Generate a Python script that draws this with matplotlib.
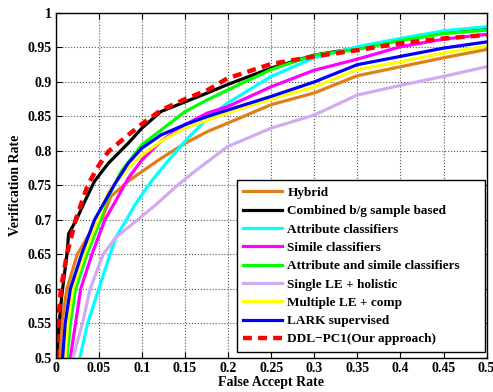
import matplotlib
matplotlib.use('Agg')
import matplotlib.pyplot as plt
import numpy as np

# ROC data (false accept rate, verification rate)
hybrid_far = [0.005, 0.007, 0.013, 0.025, 0.044, 0.053, 0.064, 0.084, 0.1, 0.122, 0.15, 0.176, 0.199, 0.25, 0.3, 0.35, 0.4, 0.45, 0.5]
hybrid_vr = [0.5, 0.55, 0.6, 0.65, 0.69, 0.7, 0.734, 0.756, 0.77, 0.789, 0.811, 0.828, 0.84, 0.867, 0.884, 0.909, 0.922, 0.935, 0.947]

combined_far = [0.001, 0.004, 0.007, 0.008, 0.013, 0.015, 0.024, 0.033, 0.045, 0.061, 0.084, 0.1, 0.122, 0.15, 0.176, 0.199, 0.25, 0.3, 0.35, 0.4, 0.45, 0.5]
combined_vr = [0.5, 0.55, 0.59, 0.6, 0.65, 0.68, 0.7, 0.725, 0.756, 0.782, 0.811, 0.833, 0.857, 0.871, 0.884, 0.896, 0.92, 0.939, 0.949, 0.961, 0.972, 0.977]

attr_far = [0.028, 0.037, 0.05, 0.063, 0.07, 0.082, 0.092, 0.111, 0.13, 0.15, 0.176, 0.199, 0.25, 0.3, 0.35, 0.4, 0.45, 0.5]
attr_vr = [0.5, 0.55, 0.6, 0.65, 0.675, 0.7, 0.722, 0.756, 0.785, 0.814, 0.847, 0.869, 0.908, 0.935, 0.951, 0.963, 0.974, 0.98]

simile_far = [0.017, 0.023, 0.029, 0.042, 0.057, 0.068, 0.084, 0.1, 0.122, 0.15, 0.176, 0.199, 0.25, 0.3, 0.35, 0.4, 0.45, 0.5]
simile_vr = [0.5, 0.55, 0.6, 0.65, 0.7, 0.724, 0.76, 0.787, 0.814, 0.838, 0.855, 0.864, 0.893, 0.917, 0.933, 0.951, 0.962, 0.969]

attr_simile_far = [0.013, 0.017, 0.023, 0.036, 0.052, 0.057, 0.076, 0.1, 0.122, 0.15, 0.176, 0.199, 0.25, 0.3, 0.35, 0.4, 0.45, 0.5]
attr_simile_vr = [0.5, 0.55, 0.6, 0.65, 0.7, 0.724, 0.77, 0.809, 0.83, 0.857, 0.874, 0.888, 0.918, 0.939, 0.947, 0.96, 0.97, 0.975]

single_le_far = [0.02, 0.031, 0.04, 0.055, 0.07, 0.095, 0.118, 0.142, 0.161, 0.199, 0.25, 0.3, 0.35, 0.4, 0.45, 0.5]
single_le_vr = [0.5, 0.55, 0.6, 0.65, 0.675, 0.7, 0.724, 0.751, 0.77, 0.806, 0.833, 0.852, 0.881, 0.895, 0.908, 0.922]

multi_le_far = [0.011, 0.014, 0.02, 0.033, 0.049, 0.061, 0.084, 0.1, 0.122, 0.15, 0.199, 0.25, 0.3, 0.35, 0.4, 0.45, 0.5]
multi_le_vr = [0.5, 0.55, 0.6, 0.65, 0.7, 0.741, 0.775, 0.794, 0.814, 0.833, 0.855, 0.875, 0.893, 0.918, 0.929, 0.942, 0.952]

lark_far = [0.008, 0.011, 0.017, 0.03, 0.045, 0.068, 0.084, 0.1, 0.122, 0.15, 0.176, 0.199, 0.25, 0.3, 0.35, 0.4, 0.45, 0.5]
lark_vr = [0.5, 0.55, 0.6, 0.65, 0.7, 0.751, 0.782, 0.804, 0.823, 0.838, 0.85, 0.859, 0.879, 0.9, 0.925, 0.937, 0.949, 0.958]

ddl_far = [0.001, 0.003, 0.006, 0.013, 0.023, 0.037, 0.049, 0.061, 0.084, 0.1, 0.122, 0.15, 0.176, 0.199, 0.25, 0.3, 0.35, 0.4, 0.45, 0.5]
ddl_vr = [0.5, 0.55, 0.6, 0.65, 0.7, 0.75, 0.777, 0.799, 0.823, 0.839, 0.859, 0.875, 0.888, 0.905, 0.926, 0.937, 0.946, 0.956, 0.963, 0.968]

labels = ['Hybrid', 'Combined b/g sample based', 'Attribute classifiers',
          'Simile classifiers', 'Attribute and simile classifiers',
          'Single LE + holistic', 'Multiple LE + comp', 'LARK supervised',
          'DDL\u2212PC1(Our approach)']

plt.rcParams['font.family'] = ['Liberation Serif', 'DejaVu Serif']
plt.rcParams['font.weight'] = 'bold'

fig = plt.figure(figsize=(4.93, 3.92), dpi=100)
ax = fig.add_axes([0.113, 0.087, 0.874, 0.88])

lw = 2.3
ax.plot(hybrid_far, hybrid_vr, color='#E07F16', lw=lw, label=labels[0])
ax.plot(combined_far, combined_vr, color='black', lw=lw, label=labels[1])
ax.plot(attr_far, attr_vr, color='#00FFFF', lw=lw, label=labels[2])
ax.plot(simile_far, simile_vr, color='#FF00FF', lw=lw, label=labels[3])
ax.plot(attr_simile_far, attr_simile_vr, color='#00FF00', lw=lw, label=labels[4])
ax.plot(single_le_far, single_le_vr, color='#D2AAF2', lw=lw, label=labels[5])
ax.plot(multi_le_far, multi_le_vr, color='#FFFF00', lw=lw, label=labels[6])
ax.plot(lark_far, lark_vr, color='#0000FF', lw=lw, label=labels[7])
ax.plot(ddl_far, ddl_vr, color='#FF0000', lw=3.2, ls=(0, (2.0, 1.4)), label=labels[8])

ax.set_xlim(0, 0.5)
ax.set_ylim(0.5, 1)
xt = np.arange(0, 0.51, 0.05)
yt = np.arange(0.5, 1.01, 0.05)
ax.set_xticks(xt)
ax.set_yticks(yt)
ax.set_xticklabels(['%g' % round(v, 2) for v in xt], fontsize=10, fontweight='bold')
ax.set_yticklabels(['%g' % round(v, 2) for v in yt], fontsize=10, fontweight='bold')
ax.tick_params(direction='in', top=True, right=True, length=4, width=0.8, pad=3)
ax.grid(True, ls=':', color='#555555', lw=0.8)
for s in ax.spines.values():
    s.set_linewidth(1.0)

ax.set_xlabel('False Accept Rate', fontsize=10, fontweight='bold', labelpad=1)
ax.set_ylabel('Verification Rate', fontsize=10, fontweight='bold', labelpad=4)

# MATLAB-style legend box: fixed width, text left aligned, room on the right
leg = ax.legend(loc='lower left', bbox_to_anchor=(0.42, 0.017, 0.576, 0.49),
                mode='expand', fontsize=9.5, frameon=True, fancybox=False,
                edgecolor='black', framealpha=1, handlelength=2.9,
                labelspacing=0.46, borderaxespad=0, handletextpad=0.45,
                borderpad=0.5)
leg.get_frame().set_linewidth(1.0)
for t in leg.get_texts():
    t.set_fontweight('bold')

fig.savefig('out.png', dpi=100)
